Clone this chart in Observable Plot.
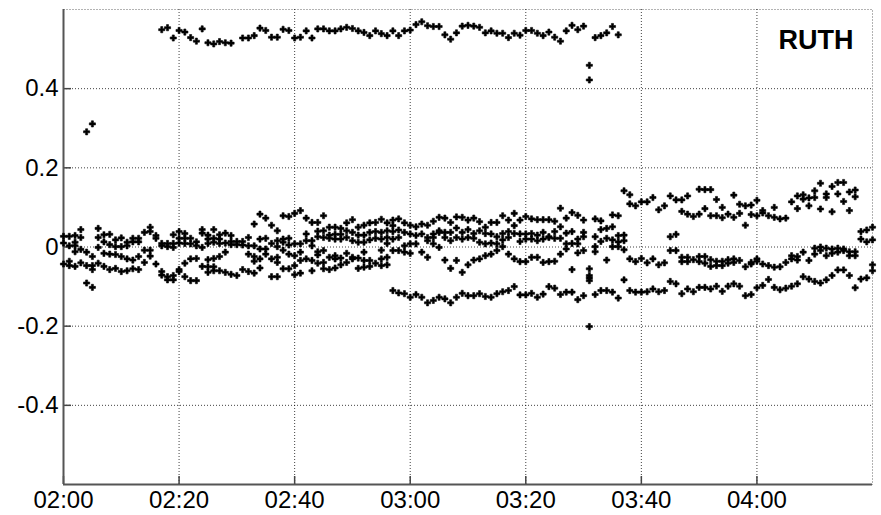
<!DOCTYPE html>
<html><head><meta charset="utf-8">
<script src="https://cdn.jsdelivr.net/npm/d3@7"></script>
<script src="https://cdn.jsdelivr.net/npm/@observablehq/plot@0.6"></script>
<style>
body{margin:0;background:#fff;}
#chart{width:881px;height:515px;overflow:hidden;}
</style></head><body><div id="chart"></div>
<script>
// ---- axis settings ----
const startHour = 2;
const spanMinutes = 140;
const xTickMinutes = [0, 20, 40, 60, 80, 100, 120];
const yTicks = [-0.4, -0.2, 0, 0.2, 0.4];
const yDomain = [-0.6, 0.6];
const stationLabel = "RUTH";

// ---- upper series (one value per minute, starting at minute topRowStart) ----
const topRowStart = 17;
const topRow = [0.549,0.554,0.528,0.547,0.543,0.529,0.520,0.551,0.516,0.513,0.519,0.516,0.515,null,
  0.528,0.528,0.534,0.553,0.547,0.530,0.530,0.550,0.547,0.528,
  0.530,0.546,0.528,0.551,0.551,0.546,0.546,0.551,0.555,0.552,0.546,0.542,0.534,0.546,0.539,0.534,0.546,0.534,0.546,0.548,
  0.562,0.569,0.559,0.557,0.557,0.536,0.525,0.541,0.558,0.560,0.558,0.555,0.541,0.546,0.540,0.540,0.529,0.540,0.535,0.547,
  0.547,0.540,0.534,0.543,0.530,0.520,0.546,0.560,0.549,0.558,
  0.459,0.529,0.534,0.541,0.557,0.536];

// ---- isolated points: [minute, value] ----
const outliers = [[4, 0.291], [5, 0.311], [91, 0.422]];

// ---- main band: values per minute column ----
const bandAStart = 0;
const bandA = [
  [0.027,0.010,-0.043],[0.027,0.003,-0.036,-0.047],[0.029,0.012,0.003,-0.012,-0.049],[0.044,0.024,-0.006,-0.040],
  [-0.013,-0.047,-0.091],[-0.024,-0.047,-0.057,-0.102],[0.047,0.024,-0.001,-0.041],[0.031,0.013,-0.016,-0.049],
  [0.032,0.006,-0.018,-0.057],[0.018,0.001,-0.019,-0.054],[0.023,0.001,-0.024,-0.062],[0.012,0.003,-0.030,-0.060],
  [0.022,0.013,-0.033,-0.055],[0.022,0.013,-0.024,-0.057],[0.037,-0.008,-0.039],[0.050,0.039,-0.008,-0.023],
  [0.029,0.022,-0.043],[0.009,0.003,-0.062,-0.071],[0.009,0.001,-0.075,-0.083],[0.031,0.009,-0.001,-0.072,-0.083],
  [0.039,0.022,0.010,-0.057,-0.062],[0.034,0.022,0.009,-0.041,-0.075],[0.022,0.008,-0.030,-0.085],[0.013,0.003,-0.029,-0.085],
  [0.044,0.035,-0.001,-0.049],[0.030,0.020,0.009,-0.032,-0.050,-0.064],[0.044,0.022,0.012,-0.029,-0.050,-0.060],
  [0.031,0.020,0.009,-0.024,-0.060],[0.035,0.010,-0.013,-0.064]
];
const bandBStart = 29;
const bandB = [
  [0.029,0.014,0.006,-0.069],[0.014,0.006,-0.072],[0.014,0.005,-0.057],[0.024,0.003,-0.018,-0.062],
  [0.058,0.003,-0.024,-0.036,-0.066],[0.083,0.020,-0.005,-0.030,-0.053],[0.073,0.022,-0.005,-0.018],[0.055,0.009,-0.030,-0.075],
  [0.041,0.016,0.001,-0.026,-0.039,-0.075],[0.079,0.020,0.012,-0.008,-0.055],[0.077,0.022,0.005,-0.018,-0.055],
  [0.085,0.008,-0.022,-0.047,-0.070],[0.092,0.008,-0.013,-0.034,-0.066],[0.073,0.033,0.016,-0.030],
  [0.062,0.016,0.003,-0.034,-0.060],[0.062,0.040,0.026,-0.012,-0.020,-0.041],[0.079,0.041,0.024,-0.009,-0.039,-0.055],
  [0.050,0.030,0.022,-0.026,-0.057],[0.050,0.032,0.020,-0.022,-0.030,-0.053],[0.047,0.032,0.020,-0.028,-0.045],
  [0.061,0.041,0.024,-0.016,-0.039],[0.069,0.037,0.016,-0.026,-0.030],[0.050,0.030,0.012,-0.028,-0.054],
  [0.055,0.030,0.012,-0.013,-0.034,-0.051],[0.061,0.037,0.018,-0.034,-0.049],[0.062,0.039,0.022,-0.041],
  [0.070,0.037,0.020,-0.008,-0.030,-0.047],[0.061,0.041,0.024,0.009,-0.026,-0.045]
];
const bandCStart = 57;
const bandC = [
  [0.068,0.054,0.039,0.020,-0.009,-0.110],[0.071,0.043,0.024,-0.009,-0.116],[0.061,0.037,0.003,-0.013,-0.118],
  [0.055,0.033,0.008,-0.016,-0.127],[0.051,0.029,0.008,-0.120],[0.058,0.033,-0.013,-0.127],
  [0.055,0.024,0.016,-0.026,-0.141],[0.065,0.033,0.024,0.008,-0.135],[0.075,0.041,0.037,-0.001,-0.127],
  [0.073,0.037,0.024,-0.033,-0.131],[0.062,0.037,0.016,-0.054,-0.141],[0.076,0.048,0.024,-0.034,-0.127],
  [0.075,0.037,0.020,-0.064,-0.117],[0.068,0.044,0.024,-0.045,-0.123],[0.073,0.034,0.022,-0.033,-0.123],
  [0.064,0.041,0.012,-0.030,-0.118],[0.050,0.034,0.008,-0.022,-0.125],[0.062,0.033,0.010,-0.018,-0.127],
  [0.062,0.026,0.008,-0.009,-0.118],[0.079,0.034,0.018,0.001,-0.113],[0.068,0.039,0.024,-0.018,-0.110],
  [0.085,0.054,0.034,-0.030,-0.100],[0.068,0.033,0.014,-0.037,-0.121],[0.077,0.033,0.020,-0.037,-0.121],
  [0.071,0.034,0.020,-0.026,-0.117],[0.069,0.030,0.016,-0.026,-0.127],[0.069,0.037,0.020,-0.039,-0.119]
];
const bandDStart = 84;
const bandD = [
  [0.069,0.026,0.024,-0.037,-0.100],[0.065,0.039,0.022,-0.036,-0.104],[0.098,0.051,0.022,-0.018,-0.120],
  [0.073,0.035,0.008,-0.005,-0.114],[0.087,0.039,0.009,-0.057,-0.114],[0.080,0.020,0.008,-0.015,-0.133],
  [0.068,0.037,0.026,-0.009,-0.123],[-0.055,-0.072,-0.078,-0.085,-0.201],[0.071,0.026,0.001,-0.012,-0.120],
  [0.066,0.044,0.014,-0.110],[0.047,0.022,-0.033,-0.110],[0.081,0.051,0.018,0.001,-0.114],
  [0.079,0.029,0.013,0.001,-0.129],[0.142,0.030,0.016,-0.007,-0.083],[0.132,0.109,-0.030,-0.110],
  [0.104,-0.037,-0.114],[0.114,-0.029,-0.114],[0.114,-0.040,-0.113],[0.125,-0.030,-0.106],
  [0.094,-0.045,-0.113],[0.104,-0.040,-0.110],[0.129,0.026,-0.009,-0.087],[0.119,0.032,-0.009,-0.093],
  [0.119,0.090,-0.026,-0.037,-0.118],[0.129,0.083,-0.026,-0.037,-0.106],[0.077,-0.032,-0.113],
  [0.146,0.083,-0.024,-0.037,-0.102]
];
const bandEStart = 111;
const bandE = [
  [0.145,0.097,-0.024,-0.041,-0.102],[0.145,0.079,-0.032,-0.049,-0.106],[0.120,0.079,-0.036,-0.047,-0.099],
  [0.100,0.074,-0.036,-0.047,-0.112],[0.083,-0.032,-0.041,-0.099],[0.131,0.075,-0.030,-0.039,-0.093],
  [0.108,0.085,-0.034,-0.099],[0.104,0.055,-0.050,-0.123],[0.106,0.082,-0.039,-0.043,-0.120],
  [0.118,0.079,-0.030,-0.036,-0.103],[0.092,0.086,-0.043,-0.097],[0.079,-0.047,-0.082],
  [0.100,0.075,-0.051,-0.102],[0.071,-0.050,-0.108],[0.073,-0.039,-0.104],[0.114,-0.030,-0.022,-0.099],
  [0.129,0.097,-0.024,-0.033,-0.093],[0.132,0.121,-0.013,-0.075],[0.124,0.104,-0.034,-0.081],
  [0.142,0.125,-0.003,-0.018,-0.087],[0.161,0.096,0.000,-0.009,-0.091],[0.134,0.125,-0.003,-0.022,-0.083],
  [0.153,0.089,-0.005,-0.016,-0.072],[0.163,0.134,-0.003,-0.013,-0.058],[0.163,0.115,-0.005,-0.009,-0.058],
  [0.139,0.092,-0.012,-0.022,-0.072],[0.144,0.127,-0.012,-0.022,-0.103],[0.039,0.020,-0.081],
  [0.043,0.013,-0.078],[0.050,0.018,-0.060,-0.045]
];

// ---- build table ----
const base = Date.UTC(2000, 0, 1, startHour, 0, 0);
const toDate = m => new Date(base + m * 60000);
const points = [];
topRow.forEach((v, i) => { if (v != null) points.push({t: toDate(topRowStart + i), v}); });
outliers.forEach(([m, v]) => points.push({t: toDate(m), v}));
[[bandAStart, bandA], [bandBStart, bandB], [bandCStart, bandC], [bandDStart, bandD], [bandEStart, bandE]]
  .forEach(([s, band]) => band.forEach((col, i) => col.forEach(v => points.push({t: toDate(s + i), v}))));

const xTicks = xTickMinutes.map(toDate);
const xDomain = [toDate(0), toDate(spanMinutes)];
const fmt = d3.utcFormat("%H:%M");

const chart = Plot.plot({
  width: 881,
  height: 515,
  marginLeft: 63,
  marginRight: 9,
  marginTop: 9,
  marginBottom: 31,
  style: {fontFamily: "'Liberation Sans', Arial, sans-serif", background: "#fff", color: "#000"},
  x: {type: "utc", domain: xDomain, label: null},
  y: {domain: yDomain, label: null},
  marks: [
    Plot.gridX(xTicks, {stroke: "#000", strokeOpacity: 0.75, strokeDasharray: "1,2"}),
    Plot.gridY(yTicks, {stroke: "#000", strokeOpacity: 0.75, strokeDasharray: "1,2"}),
    Plot.frame({stroke: "#000", strokeOpacity: 0.6, strokeDasharray: "1,2"}),
    Plot.axisX(xTicks, {label: null, tickSize: -8, tickPadding: 14, tickFormat: fmt, fontSize: 24,
      fontFamily: "'Liberation Sans Narrow', 'Arial Narrow', sans-serif", stroke: "#444", strokeWidth: 1.5}),
    Plot.axisY(yTicks, {label: null, tickSize: -8, tickPadding: 13, tickFormat: d => String(d), fontSize: 24, stroke: "#444", strokeWidth: 1.5}),
    Plot.ruleX([xDomain[0]], {stroke: "#555", strokeWidth: 2}),
    Plot.ruleY([yDomain[0]], {stroke: "#555", strokeWidth: 2}),
    Plot.dot(points, {x: "t", y: "v", symbol: "cross", r: 2.6, fill: "#000", stroke: "#000", strokeWidth: 0.6}),
    Plot.text([stationLabel], {frameAnchor: "top-right", dx: -19, dy: 20, lineAnchor: "top",
      fontSize: 27, fontWeight: "bold", fill: "#000"})
  ]
});
document.getElementById("chart").appendChild(chart);
</script>
</body></html>
